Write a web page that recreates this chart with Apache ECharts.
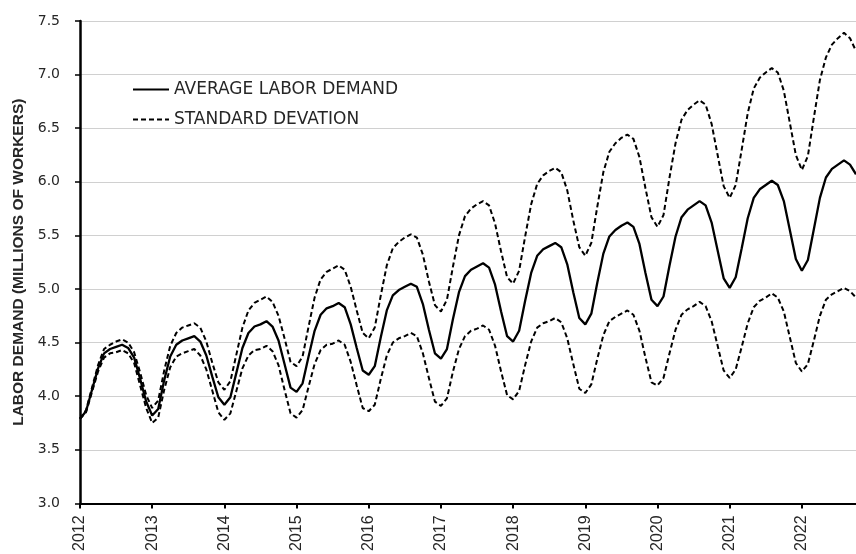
<!DOCTYPE html>
<html>
<head>
<meta charset="utf-8">
<script src="https://cdn.jsdelivr.net/npm/echarts@6/dist/echarts.min.js"></script>
<style>
html,body{margin:0;padding:0;background:#fff;}
#chart{width:856px;height:554px;}
</style>
</head>
<body>
<div id="chart"></div>
<script>
// Monthly categories Jan 2012 .. Oct 2022
const years = [2012,2013,2014,2015,2016,2017,2018,2019,2020,2021,2022];
const months = ['01','02','03','04','05','06','07','08','09','10','11','12'];
const lastMonthsIn2022 = 10;
const categories = [];
years.forEach(function(y){
  const n = (y === 2022) ? lastMonthsIn2022 : 12;
  for (let m = 0; m < n; m++) categories.push(y + '-' + months[m]);
});

const averageDemand = [
  3.79,3.86,4.06,4.26,4.40,4.44,4.46,4.48,4.45,4.36,4.16,3.95,
  3.82,3.88,4.15,4.37,4.48,4.52,4.54,4.56,4.51,4.38,4.18,3.99,
  3.92,3.99,4.22,4.45,4.59,4.65,4.67,4.70,4.65,4.52,4.30,4.08,
  4.04,4.12,4.37,4.61,4.76,4.82,4.84,4.87,4.83,4.67,4.45,4.24,
  4.20,4.28,4.55,4.80,4.94,4.99,5.02,5.05,5.02,4.86,4.62,4.40,
  4.35,4.44,4.72,4.97,5.12,5.18,5.21,5.24,5.20,5.04,4.79,4.56,
  4.51,4.61,4.89,5.15,5.31,5.37,5.40,5.43,5.39,5.23,4.97,4.73,
  4.67,4.77,5.06,5.33,5.49,5.55,5.59,5.62,5.58,5.42,5.15,4.90,
  4.84,4.93,5.22,5.49,5.67,5.74,5.78,5.82,5.78,5.62,5.36,5.10,
  5.01,5.11,5.38,5.66,5.85,5.93,5.97,6.01,5.97,5.82,5.55,5.28,
  5.17,5.27,5.56,5.85,6.04,6.12,6.16,6.20,6.16,6.07
];

const upperBand = [
  3.79,3.87,4.08,4.29,4.44,4.48,4.51,4.53,4.50,4.41,4.22,4.01,
  3.89,3.96,4.24,4.47,4.59,4.64,4.66,4.68,4.64,4.51,4.31,4.13,
  4.06,4.14,4.39,4.64,4.80,4.87,4.90,4.93,4.88,4.75,4.54,4.32,
  4.28,4.37,4.65,4.92,5.09,5.16,5.19,5.22,5.18,5.02,4.80,4.59,
  4.54,4.64,4.94,5.22,5.38,5.44,5.48,5.51,5.48,5.32,5.07,4.85,
  4.79,4.90,5.21,5.50,5.68,5.75,5.79,5.82,5.78,5.61,5.35,5.11,
  5.05,5.17,5.49,5.79,5.98,6.06,6.10,6.13,6.09,5.92,5.64,5.39,
  5.31,5.43,5.77,6.09,6.28,6.36,6.41,6.44,6.40,6.23,5.94,5.67,
  5.58,5.69,6.04,6.36,6.58,6.67,6.72,6.76,6.72,6.54,6.25,5.96,
  5.85,5.97,6.30,6.64,6.87,6.97,7.02,7.06,7.02,6.85,6.55,6.25,
  6.11,6.24,6.60,6.95,7.16,7.28,7.34,7.39,7.34,7.22
];

const lowerBand = [
  3.79,3.85,4.04,4.23,4.36,4.40,4.41,4.43,4.40,4.31,4.10,3.89,
  3.75,3.80,4.06,4.27,4.37,4.40,4.42,4.44,4.38,4.25,4.05,3.85,
  3.78,3.84,4.05,4.26,4.38,4.43,4.44,4.47,4.42,4.29,4.06,3.84,
  3.80,3.87,4.09,4.30,4.43,4.48,4.49,4.52,4.48,4.32,4.10,3.89,
  3.86,3.92,4.16,4.38,4.50,4.54,4.56,4.59,4.56,4.40,4.17,3.95,
  3.91,3.98,4.23,4.44,4.56,4.61,4.63,4.66,4.62,4.47,4.23,4.01,
  3.97,4.05,4.29,4.51,4.64,4.68,4.70,4.73,4.69,4.54,4.30,4.07,
  4.03,4.11,4.35,4.57,4.70,4.74,4.77,4.80,4.76,4.61,4.36,4.13,
  4.10,4.17,4.40,4.62,4.76,4.81,4.84,4.88,4.84,4.70,4.47,4.24,
  4.17,4.25,4.46,4.68,4.83,4.89,4.92,4.96,4.92,4.79,4.55,4.31,
  4.23,4.30,4.52,4.75,4.90,4.95,4.98,5.01,4.98,4.92
];

const yTicks = {min: 3.0, max: 7.5, interval: 0.5};
const seriesNames = ['AVERAGE LABOR DEMAND', 'STANDARD DEVATION'];
const yAxisTitle = 'LABOR DEMAND (MILLIONS OF WORKERS)';

const isYearStart = function(idx){ return idx % 12 === 0; };

const chart = echarts.init(document.getElementById('chart'), null, {renderer: 'canvas'});
chart.setOption({
  animation: false,
  backgroundColor: '#ffffff',
  grid: {left: 80, right: 0, top: 21, bottom: 50, containLabel: false},
  legend: {
    data: seriesNames,
    orient: 'vertical',
    left: 132,
    top: 81,
    itemWidth: 36,
    itemHeight: 16,
    itemGap: 13,
    padding: 0,
    selectedMode: false,
    itemStyle: {opacity: 0, borderWidth: 0},
    textStyle: {fontFamily: 'DejaVu Sans', fontSize: 17, color: '#262626', lineHeight: 16}
  },
  xAxis: {
    type: 'category',
    data: categories,
    boundaryGap: false,
    axisLine: {show: true, lineStyle: {color: '#000', width: 2}},
    axisTick: {show: true, interval: isYearStart, length: 5, lineStyle: {color: '#000', width: 2}},
    axisLabel: {
      interval: isYearStart,
      rotate: 90,
      margin: 12,
      fontFamily: 'Liberation Sans',
      fontSize: 16,
      color: '#262626',
      formatter: function(v){ return v.slice(0,4); }
    },
    splitLine: {show: false}
  },
  yAxis: {
    type: 'value',
    min: yTicks.min,
    max: yTicks.max,
    interval: yTicks.interval,
    name: yAxisTitle,
    nameLocation: 'middle',
    nameRotate: 90,
    nameGap: 53,
    nameTextStyle: {fontFamily: 'Liberation Sans', fontWeight: 'bold', fontSize: 15.5, color: '#262626'},
    axisLine: {show: true, lineStyle: {color: '#000', width: 2.5}},
    axisTick: {show: true, length: 5, inside: false, lineStyle: {color: '#000', width: 1.5}},
    axisLabel: {
      margin: 20,
      fontFamily: 'DejaVu Sans',
      fontSize: 14,
      color: '#262626',
      formatter: function(v){ return v.toFixed(1); }
    },
    splitLine: {show: true, lineStyle: {color: '#d0d0d0', width: 1}}
  },
  series: [
    {
      name: seriesNames[0],
      type: 'line',
      data: averageDemand,
      symbol: 'none',
      smooth: false,
      lineStyle: {color: '#000', width: 2.3, type: 'solid'},
      itemStyle: {color: '#000'},
      z: 3
    },
    {
      name: seriesNames[1],
      type: 'line',
      data: upperBand,
      symbol: 'none',
      lineStyle: {color: '#000', width: 2, type: [5, 3]},
      itemStyle: {color: '#000'},
      z: 2
    },
    {
      name: seriesNames[1],
      type: 'line',
      data: lowerBand,
      symbol: 'none',
      lineStyle: {color: '#000', width: 2, type: [5, 3]},
      itemStyle: {color: '#000'},
      z: 2
    }
  ]
});
</script>
</body>
</html>
